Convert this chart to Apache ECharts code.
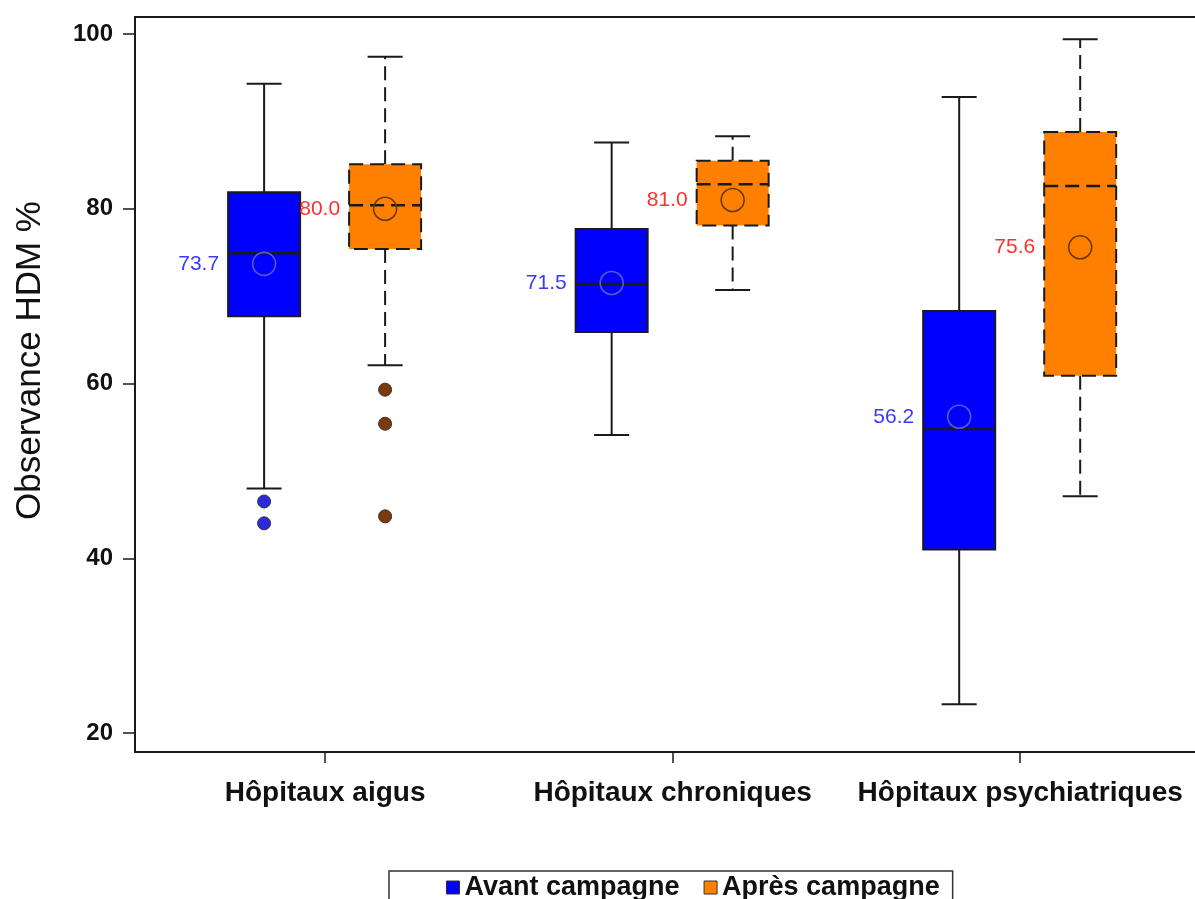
<!DOCTYPE html>
<html>
<head>
<meta charset="utf-8">
<script src="https://cdn.jsdelivr.net/npm/echarts@6/dist/echarts.min.js"></script>
<style>
html,body{margin:0;padding:0;background:#fff;}
#chart{width:1195px;height:899px;}
</style>
</head>
<body>
<div id="chart"></div>
<script>
// ---------- data ----------
const categories = ['Hôpitaux aigus', 'Hôpitaux chroniques', 'Hôpitaux psychiatriques'];
const seriesNames = ['Avant campagne', 'Après campagne'];

const avantMin    = [48.0, 54.1, 23.3];
const avantQ1     = [67.7, 65.9, 41.0];
const avantMedian = [74.9, 71.4, 54.8];
const avantQ3     = [81.9, 77.7, 68.3];
const avantMax    = [94.3, 87.6, 92.8];
const avantMean   = [73.7, 71.5, 56.2];

const apresMin    = [62.1, 70.7, 47.1];
const apresQ1     = [75.4, 78.1, 60.9];
const apresMedian = [80.4, 82.8, 82.6];
const apresQ3     = [85.1, 85.5, 88.8];
const apresMax    = [97.4, 88.3, 99.4];
const apresMean   = [80.0, 81.0, 75.6];

// outliers: [category index, value]
const avantOutliers = [[0, 46.5], [0, 44.0]];
const apresOutliers = [[0, 59.3], [0, 55.4], [0, 44.8]];

const yTicks = [20, 40, 60, 80, 100];
const catPositions = [1, 2, 3];

// ---------- layout / style constants ----------
const FONT = '"Liberation Sans", Arial, Helvetica, sans-serif';
const BOX_W = 72;
const CAP_W = 35;
const OFF_AVANT = -61;
const OFF_APRES = 60;
const INK = '#1a1a1a';

function buildRows(mins, q1, med, q3, max, mean) {
  return categories.map((c, i) => [catPositions[i], mins[i], q1[i], med[i], q3[i], max[i], mean[i]]);
}

function boxRender(offsetPx, fill, dashed, meanStroke, labelColor) {
  return function (params, api) {
    const cat = api.value(0);
    const cx = api.coord([cat, api.value(1)])[0] + offsetPx;
    const yMin = api.coord([cat, api.value(1)])[1];
    const yQ1 = api.coord([cat, api.value(2)])[1];
    const yMed = api.coord([cat, api.value(3)])[1];
    const yQ3 = api.coord([cat, api.value(4)])[1];
    const yMax = api.coord([cat, api.value(5)])[1];
    const mean = api.value(6);
    const yMean = api.coord([cat, mean])[1];
    const half = BOX_W / 2, capHalf = CAP_W / 2;
    const dash = dashed ? [14, 7] : null;
    const ls = { stroke: INK, lineWidth: 2, lineDash: dash };
    const solid = { stroke: INK, lineWidth: 2 };
    return {
      type: 'group',
      children: [
        { type: 'line', shape: { x1: cx, y1: yQ3, x2: cx, y2: yMax }, style: ls },
        { type: 'line', shape: { x1: cx, y1: yQ1, x2: cx, y2: yMin }, style: ls },
        { type: 'line', shape: { x1: cx - capHalf, y1: yMax, x2: cx + capHalf, y2: yMax }, style: solid },
        { type: 'line', shape: { x1: cx - capHalf, y1: yMin, x2: cx + capHalf, y2: yMin }, style: solid },
        { type: 'rect', shape: { x: cx - half, y: yQ3, width: BOX_W, height: yQ1 - yQ3 },
          style: { fill: fill, stroke: INK, lineWidth: 2, lineDash: dash } },
        { type: 'line', shape: { x1: cx - half, y1: yMed, x2: cx + half, y2: yMed },
          style: { stroke: INK, lineWidth: 2.5, lineDash: dashed ? [14, 7] : null } },
        { type: 'circle', shape: { cx: cx, cy: yMean, r: 11.5 },
          style: { fill: 'none', stroke: meanStroke, lineWidth: 1.6 } },
        { type: 'text', style: { text: mean.toFixed(1), x: cx - half - 9, y: yMean,
            align: 'right', verticalAlign: 'middle', fill: labelColor,
            fontSize: 21, fontFamily: FONT } }
      ]
    };
  };
}

const chart = echarts.init(document.getElementById('chart'), null, { renderer: 'canvas' });

const option = {
  backgroundColor: '#ffffff',
  animation: false,
  grid: { left: 135, right: 0, top: 17, bottom: 147, outerBoundsMode: 'none', containLabel: false },
  legend: {
    left: 389, top: 871,
    padding: [3, 13, 10, 57],
    itemWidth: 13, itemHeight: 13, itemGap: 24,
    borderColor: '#333', borderWidth: 1.5,
    textStyle: { fontSize: 27, fontWeight: 'bold', color: '#111', fontFamily: FONT },
    data: [
      { name: seriesNames[0], icon: 'rect', itemStyle: { color: '#0000ff', borderColor: '#333', borderWidth: 1 } },
      { name: seriesNames[1], icon: 'rect', itemStyle: { color: '#ff8000', borderColor: '#333', borderWidth: 1 } }
    ]
  },
  xAxis: [
    {
      type: 'value', min: 0.453, max: 3.503,
      splitLine: { show: false },
      axisLine: { show: true, lineStyle: { color: INK, width: 2 } },
      axisTick: { show: true, length: 11, lineStyle: { color: INK, width: 1.5 }, customValues: catPositions },
      axisLabel: {
        customValues: catPositions, margin: 27,
        formatter: v => categories[Math.round(v) - 1] || '',
        fontSize: 28, fontWeight: 'bold', color: '#111', fontFamily: FONT
      }
    },
    {
      type: 'value', position: 'top', min: 0.453, max: 3.503,
      splitLine: { show: false },
      axisLine: { show: true, lineStyle: { color: INK, width: 2 } },
      axisTick: { show: false }, axisLabel: { show: false }
    }
  ],
  yAxis: {
    type: 'value', min: 17.83, max: 101.95,
    splitLine: { show: false },
    axisLine: { show: true, lineStyle: { color: INK, width: 2 } },
    axisTick: { show: true, length: 12, lineStyle: { color: INK, width: 1.5 }, customValues: yTicks },
    axisLabel: { customValues: yTicks, margin: 22, fontSize: 24, fontWeight: 'bold', color: '#111', fontFamily: FONT },
    name: 'Observance HDM %', nameLocation: 'middle', nameRotate: 90, nameGap: 87,
    nameTextStyle: { fontSize: 35, color: '#111', fontFamily: FONT, padding: [0, 0, 0, 48] }
  },
  series: [
    {
      name: seriesNames[0], type: 'custom', xAxisIndex: 0,
      itemStyle: { color: '#0000ff' },
      renderItem: boxRender(OFF_AVANT, '#0000ff', false, '#5a5ad0', '#3a3aff'),
      encode: { x: 0, y: [1, 2, 3, 4, 5, 6] },
      data: buildRows(avantMin, avantQ1, avantMedian, avantQ3, avantMax, avantMean),
      z: 2
    },
    {
      name: seriesNames[1], type: 'custom', xAxisIndex: 0,
      itemStyle: { color: '#ff8000' },
      renderItem: boxRender(OFF_APRES, '#ff8000', true, '#6b3800', '#ff3030'),
      encode: { x: 0, y: [1, 2, 3, 4, 5, 6] },
      data: buildRows(apresMin, apresQ1, apresMedian, apresQ3, apresMax, apresMean),
      z: 2
    },
    {
      name: seriesNames[0], type: 'scatter', xAxisIndex: 0,
      symbol: 'circle', symbolSize: 13, symbolOffset: [OFF_AVANT, 0],
      itemStyle: { color: '#2b2bdb', borderColor: '#333', borderWidth: 1, opacity: 1 },
      data: avantOutliers.map(d => [catPositions[d[0]], d[1]]),
      z: 3
    },
    {
      name: seriesNames[1], type: 'scatter', xAxisIndex: 0,
      symbol: 'circle', symbolSize: 13, symbolOffset: [OFF_APRES, 0],
      itemStyle: { color: '#7a3a0c', borderColor: '#333', borderWidth: 1, opacity: 1 },
      data: apresOutliers.map(d => [catPositions[d[0]], d[1]]),
      z: 3
    }
  ]
};
chart.setOption(option);
</script>
</body>
</html>
